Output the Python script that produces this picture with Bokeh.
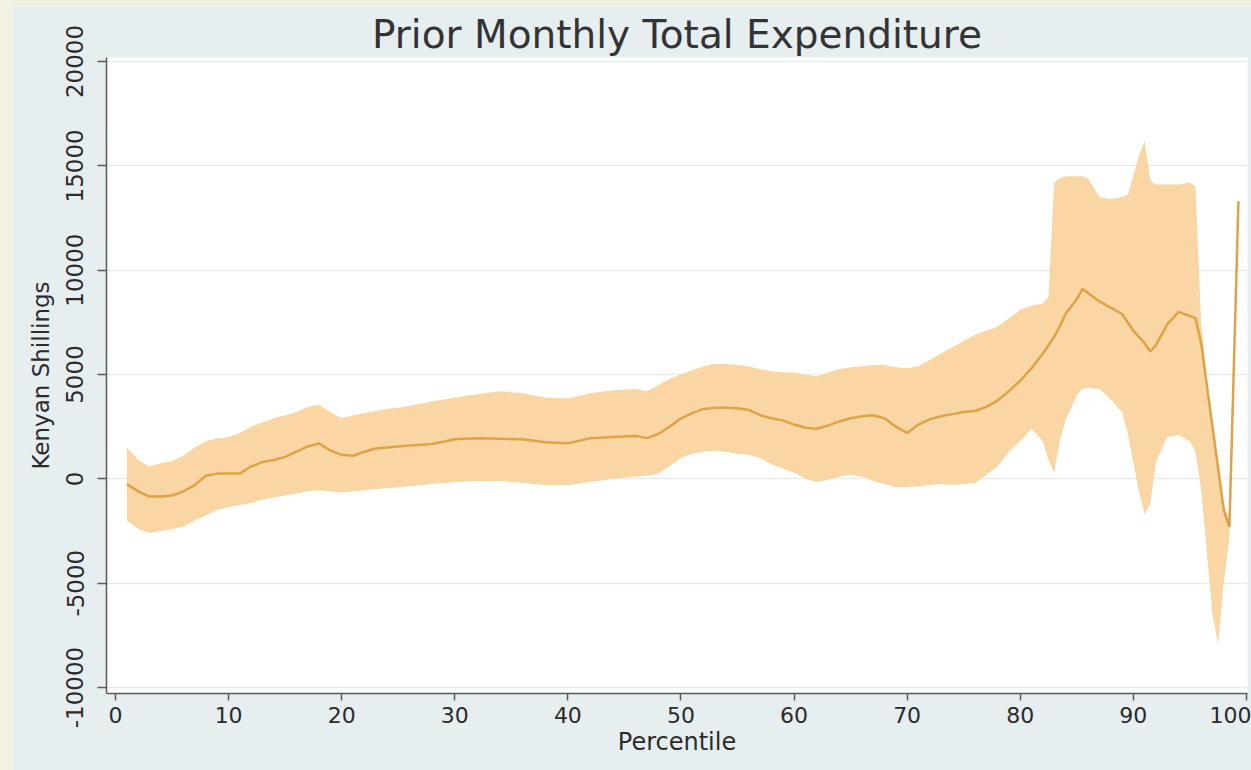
from bokeh.plotting import figure
from bokeh.models import FixedTicker, Range1d
from bokeh.layouts import column
from bokeh.embed import file_html
from bokeh.resources import INLINE

# Percentile of the distribution
pct = [1, 2, 3, 4, 5, 6, 7, 8, 9, 10, 11, 12, 13, 14, 15, 16, 17, 18, 19, 20, 21, 22, 23, 24, 25, 26,
       28, 30, 32, 34, 36, 38, 40, 42, 44, 46,
       47, 48, 49, 50, 51, 52, 53, 54, 55, 56, 57, 58, 59, 60, 61, 62, 63, 64, 65, 66, 67, 68, 69, 70,
       71, 72, 73, 74, 75, 76, 77, 78, 79, 80, 81, 82,
       82.5, 83, 83.5, 84, 85, 85.5, 86, 87, 88, 89, 89.5, 90, 90.5, 91, 91.5, 92, 93, 94, 95, 95.5,
       96, 96.5, 97, 97.5, 98, 98.5, 99.3]

# Point estimate (Kenyan Shillings)
estimate = [-250, -600, -850, -850, -800, -600, -300, 150, 250, 250, 250, 600, 800, 900, 1050, 1300, 1550, 1700, 1350, 1150, 1100, 1300, 1450, 1500, 1550, 1600,
            1670, 1900, 1950, 1920, 1900, 1750, 1700, 1950, 2000, 2050,
            1950, 2150, 2500, 2900, 3150, 3350, 3400, 3400, 3380, 3300, 3050, 2900, 2800, 2600, 2450, 2400, 2550, 2750, 2900, 3000, 3050, 2900, 2500, 2200,
            2600, 2850, 3000, 3100, 3200, 3250, 3450, 3750, 4200, 4700, 5300, 6000,
            6400, 6800, 7300, 7900, 8600, 9100, 8900, 8500, 8200, 7900, 7500, 7100, 6800, 6500, 6100, 6400, 7400, 8000, 7800, 7700,
            6500, 4500, 2500, 500, -1500, -2300, 13300]

# Upper confidence bound
upper = [1500, 900, 600, 750, 850, 1100, 1500, 1800, 1950, 2000, 2200, 2500, 2700, 2900, 3050, 3200, 3450, 3550, 3200, 2900, 3050, 3150, 3250, 3350, 3400, 3500,
         3700, 3900, 4050, 4200, 4100, 3900, 3850, 4100, 4250, 4300,
         4200, 4500, 4800, 5000, 5200, 5400, 5500, 5500, 5450, 5400, 5250, 5150, 5100, 5100, 5000, 4900, 5100, 5250, 5350, 5400, 5450, 5450, 5350, 5300,
         5400, 5700, 6000, 6300, 6600, 6900, 7100, 7300, 7700, 8100, 8300, 8400,
         8700, 14200, 14400, 14500, 14500, 14500, 14400, 13500, 13400, 13500, 13600, 14500, 15500, 16200, 14300, 14100, 14100, 14100, 14200, 14000,
         7500, 4800, 2800, 800, -1200, -2000, 13300]

# Lower confidence bound
lower = [-2000, -2400, -2600, -2500, -2400, -2300, -2000, -1750, -1500, -1350, -1250, -1150, -1000, -900, -800, -700, -600, -550, -600, -650, -600, -550, -500, -450, -400, -350,
         -250, -150, -100, -100, -200, -300, -300, -150, 0, 100,
         150, 250, 600, 1000, 1200, 1300, 1350, 1300, 1200, 1150, 1000, 700, 500, 300, 0, -150, -50, 100, 200, 100, -100, -250, -400, -400,
         -350, -300, -250, -300, -250, -200, 200, 600, 1300, 1800, 2400, 1800,
         900, 300, 1800, 2800, 4000, 4300, 4350, 4300, 3800, 3200, 2200, 800, -600, -1700, -1200, 800, 2000, 2100, 1800, 1300,
         -500, -3500, -6500, -7900, -5000, -2800, 13300]

x_ticks = [0, 10, 20, 30, 40, 50, 60, 70, 80, 90, 100]
y_ticks = [-10000, -5000, 0, 5000, 10000, 15000, 20000]
y_tick_labels = ["-10000", "-5000", "0", "5000", "10000", "15000", "20000"]

FONT = "DejaVu Sans"
TXT = "#2b2b2b"

p = figure(width=1239, height=764, output_backend="svg", toolbar_location=None,
           x_range=Range1d(-0.8, 100.1), y_range=Range1d(-10288, 20191),
           title="Prior Monthly Total Expenditure",
           min_border_left=94, min_border_right=4, min_border_top=51, min_border_bottom=77)

p.background_fill_color = "white"
p.border_fill_color = "#E7EEF0"
p.outline_line_color = None

p.title.text_font = FONT
p.title.text_font_size = "39px"
p.title.text_font_style = "normal"
p.title.text_color = "#333333"
p.title.align = "center"
p.title.standoff = 2

p.varea(x=pct, y1=lower, y2=upper, fill_color="#F9D6A3", fill_alpha=1.0)
p.line(pct, estimate, line_color="#E0A246", line_width=2.5)

p.xaxis.ticker = FixedTicker(ticks=x_ticks)
p.yaxis.ticker = FixedTicker(ticks=y_ticks)
p.yaxis.major_label_overrides = {t: s for t, s in zip(y_ticks, y_tick_labels)}
p.xaxis.minor_tick_line_color = None
p.yaxis.minor_tick_line_color = None

p.xaxis.axis_label = "Percentile"
p.yaxis.axis_label = "Kenyan Shillings"
for ax in (p.xaxis, p.yaxis):
    ax.axis_label_text_font = FONT
    ax.axis_label_text_font_style = "normal"
    ax.axis_label_text_color = TXT
    ax.major_label_text_font = FONT
    ax.major_label_text_color = TXT
    ax.axis_line_color = "#5a5a5a"
    ax.axis_line_width = 1.5
    ax.major_tick_line_color = "#5a5a5a"
    ax.major_tick_line_width = 1.5
    ax.major_tick_in = 0

p.xaxis.axis_label_text_font_size = "24px"
p.yaxis.axis_label_text_font_size = "23px"
p.xaxis.major_label_text_font_size = "22px"
p.yaxis.major_label_text_font_size = "23px"
p.xaxis.major_tick_out = 7
p.yaxis.major_tick_out = 9
p.xaxis.major_label_standoff = 6
p.yaxis.major_label_standoff = 14
p.xaxis.axis_label_standoff = 2
p.yaxis.axis_label_standoff = 10
p.yaxis.major_label_orientation = "vertical"

p.xgrid.grid_line_color = None
p.ygrid.grid_line_color = "#E6ECEC"
p.ygrid.grid_line_width = 1.5

layout = column(p, styles={"background-color": "#F1F2E4", "padding-left": "12px", "padding-top": "6px"})

open("out.html", "w").write(file_html(layout, INLINE))
